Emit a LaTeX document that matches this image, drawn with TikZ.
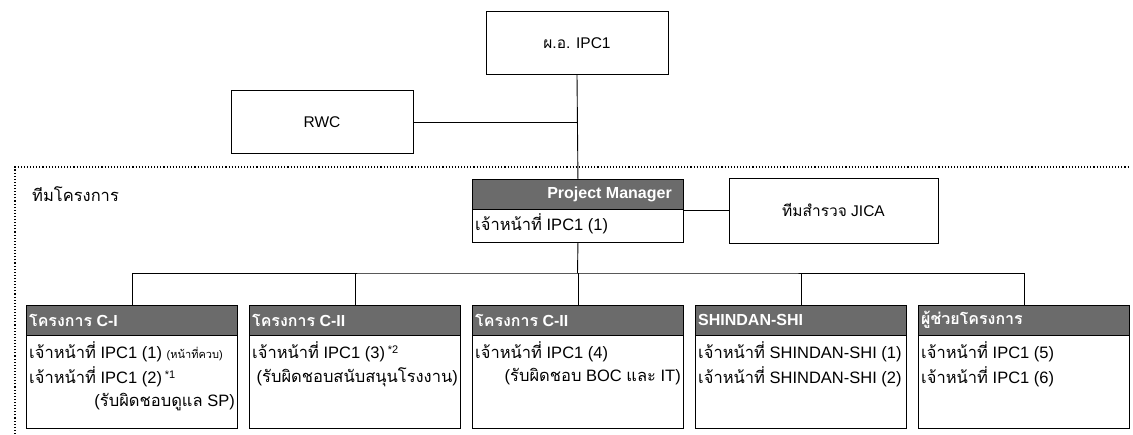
\documentclass[tikz,border=0pt]{standalone}
\usepackage{fontspec}
\setmainfont{Liberation Sans}
\newfontfamily\thaifont[Script=Thai]{Loma}
\newcommand{\thx}[1]{{\thaifont #1}}
\newcommand{\notemark}[1]{\,\raisebox{0.6ex}{\fontsize{11}{11}\selectfont *#1}}
\usetikzlibrary{positioning}

\tikzset{
  plainbox/.style={draw, line width=0.9pt, minimum width=182pt, minimum height=63pt, inner sep=0pt, font=\fontsize{15.5}{17}\selectfont},
  unitbox/.style={draw, line width=0.9pt, anchor=north west, minimum width=211pt, minimum height=123pt, inner sep=0pt},
  unithead/.style={draw, line width=0.9pt, fill=black!58, anchor=north west, minimum width=211pt, minimum height=30pt, inner sep=0pt},
  headtext/.style={text=white, font=\bfseries\fontsize{16}{18}\selectfont, anchor=west, inner sep=0pt},
  linetext/.style={font=\fontsize{16.5}{18}\selectfont, anchor=west, inner sep=0pt},
  link/.style={line width=0.9pt},
}

\begin{document}
\begin{tikzpicture}[x=1pt, y=-1pt]
    \fill[white] (0,0) rectangle (1133,434);
    \useasboundingbox (0,0) rectangle (1133,434);

    % Upper level
    \node[plainbox] (dir) at (577,43) {\thx{ผ.อ.} IPC1};
    \node[plainbox] (rwc) at (322,122) {RWC};

    % Project team frame
    \draw[dotted, line width=1.1pt] (15,434) -- (15,167) -- (1130,167);
    \node[linetext] (teamlabel) at (32,194) {\thx{ทีมโครงการ}};

    % Project manager
    \node[unitbox, minimum height=63pt] (pm) at (472,179) {};
    \node[unithead] (pmh) at (472,179) {};
    \node[headtext, anchor=east] (pmt) at (672,194) {Project Manager};
    \node[linetext] (pml) at (475,224) {\thx{เจ้าหน้าที่} IPC1 (1)};
    \node[plainbox, minimum width=209pt, minimum height=65pt] (jica) at (833.5,210.5) {\thx{ทีมสำรวจ} JICA};

    % Units
    \node[unitbox] (c1) at (26,305) {};
    \node[unithead] (c1h) at (26,305) {};
    \node[headtext] (c1t) at (29,320) {\thx{โครงการ} C-I};
    \node[linetext] (c1a) at (29,352) {\thx{เจ้าหน้าที่} IPC1 (1) {\fontsize{11}{12}\selectfont(\thx{หน้าที่ควบ})}};
    \node[linetext] (c1b) at (29,377) {\thx{เจ้าหน้าที่} IPC1 (2)\notemark{1}};
    \node[linetext, anchor=east] (c1c) at (235,402) {(\thx{รับผิดชอบดูแล} SP)};

    \node[unitbox] (c2) at (249,305) {};
    \node[unithead] (c2h) at (249,305) {};
    \node[headtext] (c2t) at (252,320) {\thx{โครงการ} C-II};
    \node[linetext] (c2a) at (252,352) {\thx{เจ้าหน้าที่} IPC1 (3)\notemark{2}};
    \node[linetext, anchor=east] (c2b) at (458,377) {(\thx{รับผิดชอบสนับสนุนโรงงาน})};

    \node[unitbox] (c3) at (472,305) {};
    \node[unithead] (c3h) at (472,305) {};
    \node[headtext] (c3t) at (475,320) {\thx{โครงการ} C-II};
    \node[linetext] (c3a) at (475,352) {\thx{เจ้าหน้าที่} IPC1 (4)};
    \node[linetext, anchor=east] (c3b) at (681,377) {(\thx{รับผิดชอบ} BOC \thx{และ} IT)};

    \node[unitbox] (c4) at (695,305) {};
    \node[unithead] (c4h) at (695,305) {};
    \node[headtext] (c4t) at (698,320) {SHINDAN-SHI};
    \node[linetext] (c4a) at (698,352) {\thx{เจ้าหน้าที่} SHINDAN-SHI (1)};
    \node[linetext] (c4b) at (698,377) {\thx{เจ้าหน้าที่} SHINDAN-SHI (2)};

    \node[unitbox] (c5) at (918,305) {};
    \node[unithead] (c5h) at (918,305) {};
    \node[headtext] (c5t) at (921,320) {\thx{ผู้ช่วยโครงการ}};
    \node[linetext] (c5a) at (921,352) {\thx{เจ้าหน้าที่} IPC1 (5)};
    \node[linetext] (c5b) at (921,377) {\thx{เจ้าหน้าที่} IPC1 (6)};

    % Connectors
    \coordinate (bus) at (577.5,273);
    \draw[link] (dir.south) -- (pmh.north);
    \draw[link] (rwc.east) -- (rwc.east -| dir.south);
    \draw[link] (pm.east |- jica.west) -- (jica.west);
    \draw[link] (pm.south) -- (bus);
    \draw[link] (c1h.north) |- (bus) -| (c5h.north);
    \foreach \u in {c2h,c3h,c4h}
        \draw[link] (\u.north) -- (\u.north |- bus);
\end{tikzpicture}
\end{document}
